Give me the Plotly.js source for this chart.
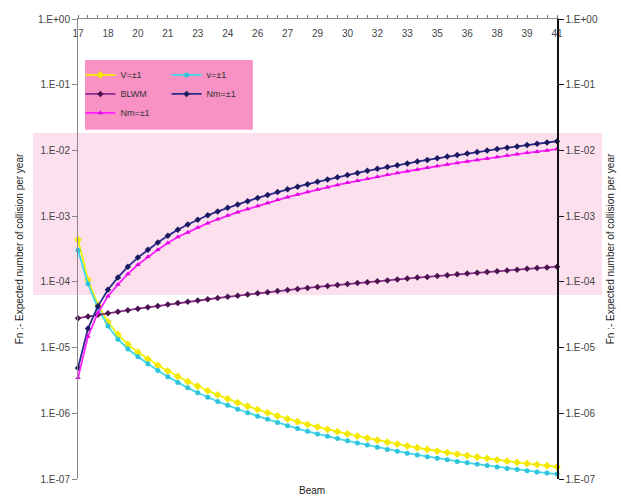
<!DOCTYPE html>
<html>
<head>
<meta charset="utf-8">
<script src="https://cdn.plot.ly/plotly-3.0.1.min.js"></script>
<style>html,body{margin:0;padding:0;background:#fff;}#chart{width:621px;height:499px;}</style>
</head>
<body>
<div id="chart"></div>
<script>
const beam = [17,17.5,18,18.5,19,19.5,20,20.5,21,21.5,22,22.5,23,23.5,24,24.5,25,25.5,26,26.5,27,27.5,28,28.5,29,29.5,30,30.5,31,31.5,32,32.5,33,33.5,34,34.5,35,35.5,36,36.5,37,37.5,38,38.5,39,39.5,40,40.5,41];
const beamTickLabels = ['17','18','20','21','23','24','26','27','29','30','32','33','35','36','38','39','41'];

const seriesNames = ['V=±1','v=±1','BLWM','Nm=±1','Nm=±1'];

const vUpper = [4.37e-4,1.07e-4,4.47e-5,2.45e-5,1.58e-5,1.12e-5,8.51e-6,6.68e-6,5.37e-6,4.39e-6,3.63e-6,3.04e-6,2.58e-6,2.20e-6,1.90e-6,1.66e-6,1.45e-6,1.28e-6,1.14e-6,1.02e-6,9.12e-7,8.22e-7,7.45e-7,6.78e-7,6.19e-7,5.69e-7,5.25e-7,4.85e-7,4.50e-7,4.18e-7,3.89e-7,3.63e-7,3.40e-7,3.18e-7,2.99e-7,2.82e-7,2.66e-7,2.52e-7,2.39e-7,2.27e-7,2.16e-7,2.06e-7,1.96e-7,1.87e-7,1.79e-7,1.72e-7,1.65e-7,1.59e-7,1.53e-7];
const vLower = [3.02e-4,9.32e-5,3.98e-5,2.13e-5,1.34e-5,9.53e-6,7.24e-6,5.68e-6,4.47e-6,3.61e-6,2.95e-6,2.44e-6,2.05e-6,1.75e-6,1.51e-6,1.32e-6,1.15e-6,1.02e-6,9.05e-7,8.10e-7,7.24e-7,6.45e-7,5.85e-7,5.32e-7,4.86e-7,4.47e-7,4.12e-7,3.81e-7,3.53e-7,3.28e-7,3.05e-7,2.82e-7,2.64e-7,2.47e-7,2.32e-7,2.19e-7,2.06e-7,1.96e-7,1.85e-7,1.76e-7,1.68e-7,1.60e-7,1.52e-7,1.45e-7,1.39e-7,1.33e-7,1.28e-7,1.23e-7,1.19e-7];
const blwm = [2.80e-5,2.97e-5,3.15e-5,3.33e-5,3.52e-5,3.71e-5,3.90e-5,4.10e-5,4.31e-5,4.53e-5,4.75e-5,4.97e-5,5.20e-5,5.44e-5,5.68e-5,5.92e-5,6.17e-5,6.43e-5,6.69e-5,6.96e-5,7.23e-5,7.51e-5,7.79e-5,8.07e-5,8.36e-5,8.66e-5,8.96e-5,9.27e-5,9.58e-5,9.89e-5,1.02e-4,1.05e-4,1.09e-4,1.12e-4,1.16e-4,1.19e-4,1.23e-4,1.26e-4,1.30e-4,1.34e-4,1.37e-4,1.41e-4,1.45e-4,1.49e-4,1.53e-4,1.58e-4,1.62e-4,1.66e-4,1.70e-4];
const nmNavy = [4.90e-6,1.95e-5,4.27e-5,7.59e-5,1.17e-4,1.70e-4,2.34e-4,3.09e-4,3.98e-4,5.01e-4,6.21e-4,7.46e-4,8.81e-4,1.03e-3,1.18e-3,1.34e-3,1.51e-3,1.69e-3,1.89e-3,2.10e-3,2.33e-3,2.56e-3,2.81e-3,3.07e-3,3.34e-3,3.62e-3,3.92e-3,4.23e-3,4.55e-3,4.89e-3,5.24e-3,5.60e-3,5.97e-3,6.35e-3,6.76e-3,7.18e-3,7.60e-3,8.05e-3,8.51e-3,8.97e-3,9.46e-3,9.95e-3,1.05e-2,1.10e-2,1.15e-2,1.21e-2,1.26e-2,1.32e-2,1.38e-2];
const nmMagenta = [3.47e-6,1.48e-5,3.39e-5,6.03e-5,9.08e-5,1.32e-4,1.82e-4,2.40e-4,3.09e-4,3.89e-4,4.82e-4,5.66e-4,6.69e-4,7.82e-4,8.96e-4,1.02e-3,1.15e-3,1.28e-3,1.43e-3,1.59e-3,1.77e-3,1.94e-3,2.13e-3,2.33e-3,2.54e-3,2.75e-3,2.98e-3,3.21e-3,3.45e-3,3.71e-3,3.98e-3,4.25e-3,4.53e-3,4.82e-3,5.13e-3,5.45e-3,5.77e-3,6.11e-3,6.46e-3,6.81e-3,7.18e-3,7.55e-3,7.97e-3,8.35e-3,8.73e-3,9.18e-3,9.56e-3,1.00e-2,1.05e-2];

const yTickVals = [1,1e-1,1e-2,1e-3,1e-4,1e-5,1e-6,1e-7];
const yTickText = ['1.E+00','1.E-01','1.E-02','1.E-03','1.E-04','1.E-05','1.E-06','1.E-07'];

const FONT = 'Arial, "Liberation Sans", sans-serif';

function mk(name, y, lineColor, markerColor, symbol, legend, size, yax) {
  return {
    type: 'scatter', mode: 'lines+markers', name: name, x: beam, y: y,
    legend: legend, cliponaxis: false, yaxis: yax || 'y',
    line: {color: lineColor, width: 1.8},
    marker: {color: markerColor, symbol: symbol, size: size || 5}
  };
}

const traces = [
  mk(seriesNames[0], vUpper, '#f2f200', '#f5e800', 'diamond', 'legend', 6),
  mk(seriesNames[1], vLower, '#40d8ec', '#2fc4dc', 'circle', 'legend2', 5),
  mk(seriesNames[2], blwm, '#8a2b8a', '#4a1450', 'diamond', 'legend', 5),
  mk(seriesNames[3], nmNavy, '#2a2a8c', '#1a1a60', 'diamond', 'legend2', 5),
  mk(seriesNames[4], nmMagenta, '#ff20ff', '#e000e0', 'triangle-up', 'legend', 5, 'y2')
];

const tickText = beam.map((b, i) => (i % 3 === 0 ? beamTickLabels[i / 3] : ''));

const axisTitle = 'Fn :- Expected number of collision per year';

const layout = {
  width: 621, height: 499,
  margin: {l: 78, r: 64, t: 19, b: 20},
  paper_bgcolor: '#ffffff',
  plot_bgcolor: 'rgba(0,0,0,0)',
  font: {family: FONT, size: 10, color: '#333'},
  showlegend: true,
  xaxis: {
    type: 'linear', range: [17, 41], side: 'top',
    tickmode: 'array', tickvals: beam, ticktext: tickText,
    ticklabelposition: 'outside', ticklabelstandoff: -26,
    ticks: 'outside', ticklen: 3, tickcolor: '#777',
    showline: true, linecolor: '#888', linewidth: 1,
    showgrid: false, zeroline: false,
    tickfont: {family: FONT, size: 10, color: '#444'}
  },
  yaxis: {
    type: 'log', range: [-7, 0],
    tickmode: 'array', tickvals: yTickVals, ticktext: yTickText,
    ticks: 'outside', ticklen: 5, tickcolor: '#888',
    showline: true, linecolor: '#888', linewidth: 1,
    showgrid: false, zeroline: false,
    tickfont: {family: FONT, size: 10, color: '#444'},
    title: {text: axisTitle, font: {family: FONT, size: 10, color: '#222'}, standoff: 12}
  },
  yaxis2: {
    type: 'log', range: [-7, 0], overlaying: 'y', side: 'right', anchor: 'x',
    tickmode: 'array', tickvals: yTickVals, ticktext: yTickText,
    ticks: 'outside', ticklen: 5, tickcolor: '#111',
    showline: true, linecolor: '#111', linewidth: 1.5,
    showgrid: false, zeroline: false,
    tickfont: {family: FONT, size: 10, color: '#444'},
    title: {text: axisTitle, font: {family: FONT, size: 10, color: '#222'}, standoff: 10}
  },
  legend: {
    x: 0.005, y: 0.91, xanchor: 'left', yanchor: 'top',
    bgcolor: 'rgba(0,0,0,0)', borderwidth: 0,
    font: {family: FONT, size: 9, color: '#333'}, itemwidth: 30, tracegroupgap: 0
  },
  legend2: {
    x: 0.185, y: 0.91, xanchor: 'left', yanchor: 'top',
    bgcolor: 'rgba(0,0,0,0)', borderwidth: 0,
    font: {family: FONT, size: 9, color: '#333'}, itemwidth: 30, tracegroupgap: 0
  },
  shapes: [
    {type: 'rect', xref: 'paper', yref: 'paper', x0: -0.094, x1: 1.094, y0: 0.40, y1: 0.752,
     fillcolor: '#fde0ee', line: {width: 0}, layer: 'below'},
    {type: 'rect', xref: 'paper', yref: 'paper', x0: 0.0146, x1: 0.365, y0: 0.759, y1: 0.911,
     fillcolor: '#f892c4', line: {width: 0}, layer: 'below'}
  ],
  annotations: [
    {text: 'Beam', xref: 'paper', yref: 'paper', x: 0.489, y: -0.024, showarrow: false,
     xanchor: 'center', yanchor: 'middle', font: {family: FONT, size: 10, color: '#222'}}
  ]
};

Plotly.newPlot('chart', traces, layout, {displayModeBar: false, staticPlot: true});
</script>
</body>
</html>
